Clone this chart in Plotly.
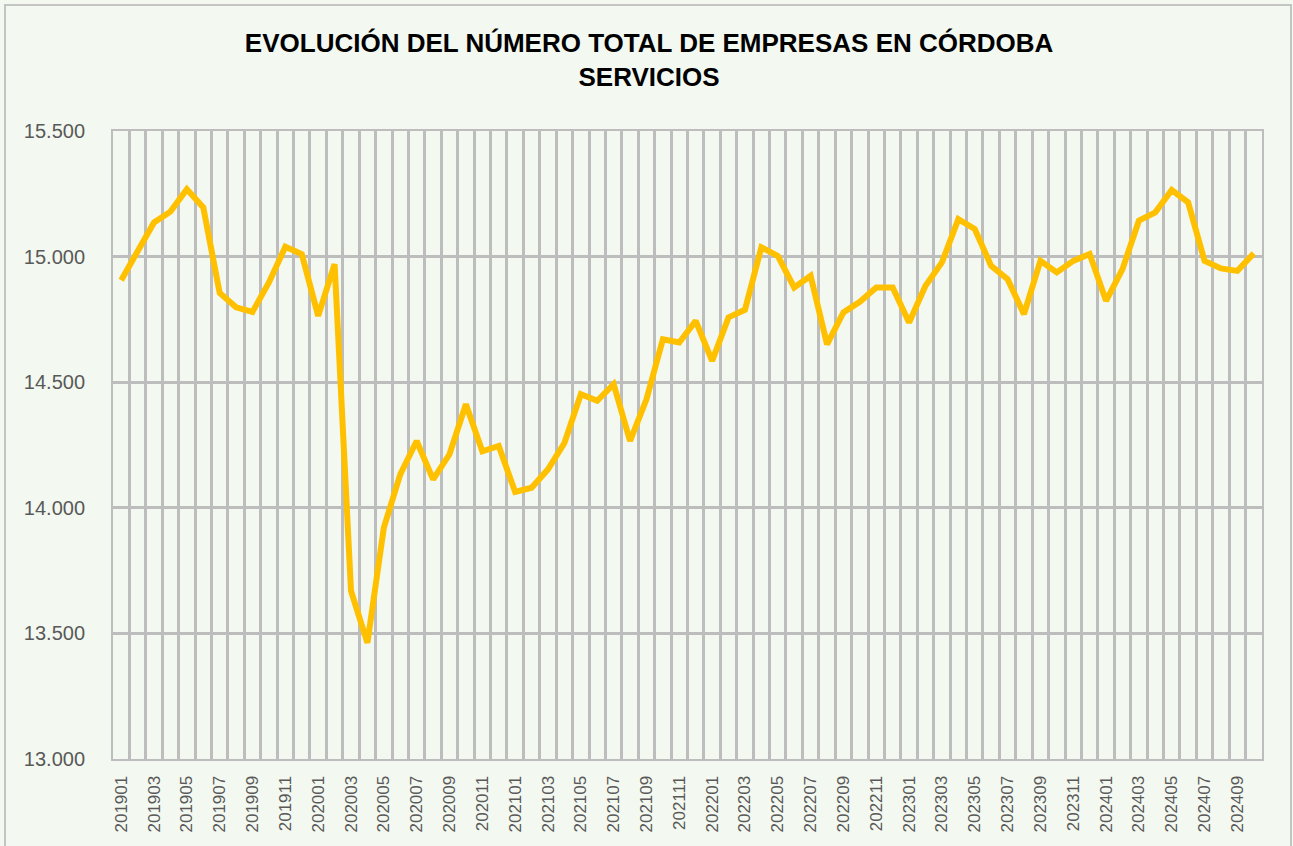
import plotly.graph_objects as go

# Monthly periods (YYYYMM), January 2019 to October 2024
periods = [f"{y}{m:02d}" for y in range(2019, 2025) for m in range(1, 13)][:70]

# Total number of service-sector companies in Córdoba
empresas = [
    14906, 15020, 15136, 15179, 15268, 15196, 14855, 14798, 14780, 14897, 15039, 15010,  # 2019
    14764, 14970, 13669, 13462, 13921, 14133, 14266, 14113, 14213, 14412, 14225, 14246,  # 2020
    14063, 14080, 14153, 14258, 14452, 14426, 14492, 14266, 14432, 14671, 14658, 14744,  # 2021
    14585, 14758, 14788, 15037, 15003, 14877, 14924, 14651, 14778, 14820, 14877, 14877,  # 2022
    14738, 14884, 14977, 15149, 15110, 14963, 14910, 14771, 14983, 14937, 14983, 15010,  # 2023
    14824, 14950, 15143, 15176, 15265, 15216, 14983, 14953, 14943, 15013,              # 2024
]

titulo = "EVOLUCIÓN DEL NÚMERO TOTAL DE EMPRESAS EN CÓRDOBA<br>SERVICIOS"

x_idx = list(range(len(periods)))
tick_pos = x_idx[::2]
tick_txt = periods[::2]

BG = "#f3f8f0"
GRID = "#bdbdbd"
TXT = "#595959"
FONT = "Liberation Sans, Arial, sans-serif"

fig = go.Figure()
fig.add_trace(go.Scatter(
    x=x_idx,
    y=empresas,
    mode="lines",
    line=dict(color="#FFC000", width=6),
    hoverinfo="skip",
    showlegend=False,
))

fig.update_layout(
    width=1293,
    height=846,
    margin=dict(l=113, r=31, t=131, b=87),
    paper_bgcolor=BG,
    plot_bgcolor=BG,
    separators=",.",
    font=dict(family=FONT, color=TXT),
    title=dict(
        text=titulo,
        x=0.502,
        xanchor="center",
        xref="container",
        y=0.938,
        yanchor="top",
        yref="container",
        font=dict(family=FONT, size=26, color="#000000", weight="bold"),
    ),
)

fig.update_xaxes(
    range=[-0.5, len(periods) - 0.5],
    tickmode="array",
    tickvals=tick_pos,
    ticktext=tick_txt,
    tickangle=-90,
    tickfont=dict(size=17, color=TXT),
    ticks="",
    ticklabelstandoff=8,
    showgrid=False,
    zeroline=False,
    showline=True,
    linecolor=GRID,
    linewidth=2,
    mirror=True,
    minor=dict(tick0=0.5, dtick=1, showgrid=True, gridcolor=GRID, gridwidth=2.5, ticks=""),
)

fig.update_yaxes(
    range=[13000, 15500],
    dtick=500,
    tickformat=",d",
    tickfont=dict(size=20, color=TXT),
    ticks="",
    ticklabelstandoff=22,
    showgrid=True,
    gridcolor=GRID,
    gridwidth=2.5,
    zeroline=False,
    showline=True,
    linecolor=GRID,
    linewidth=2,
    mirror=True,
)

# Outer chart frame
fig.add_shape(
    type="rect",
    xref="paper", yref="paper",
    x0=(5 - 113) / 1149, x1=(1291 - 113) / 1149,
    y0=(759 - 852) / 628, y1=(759 - 5) / 628,
    line=dict(color="#c4c4c4", width=2),
    fillcolor="rgba(0,0,0,0)",
    layer="below",
)

fig.write_html("out.html")
